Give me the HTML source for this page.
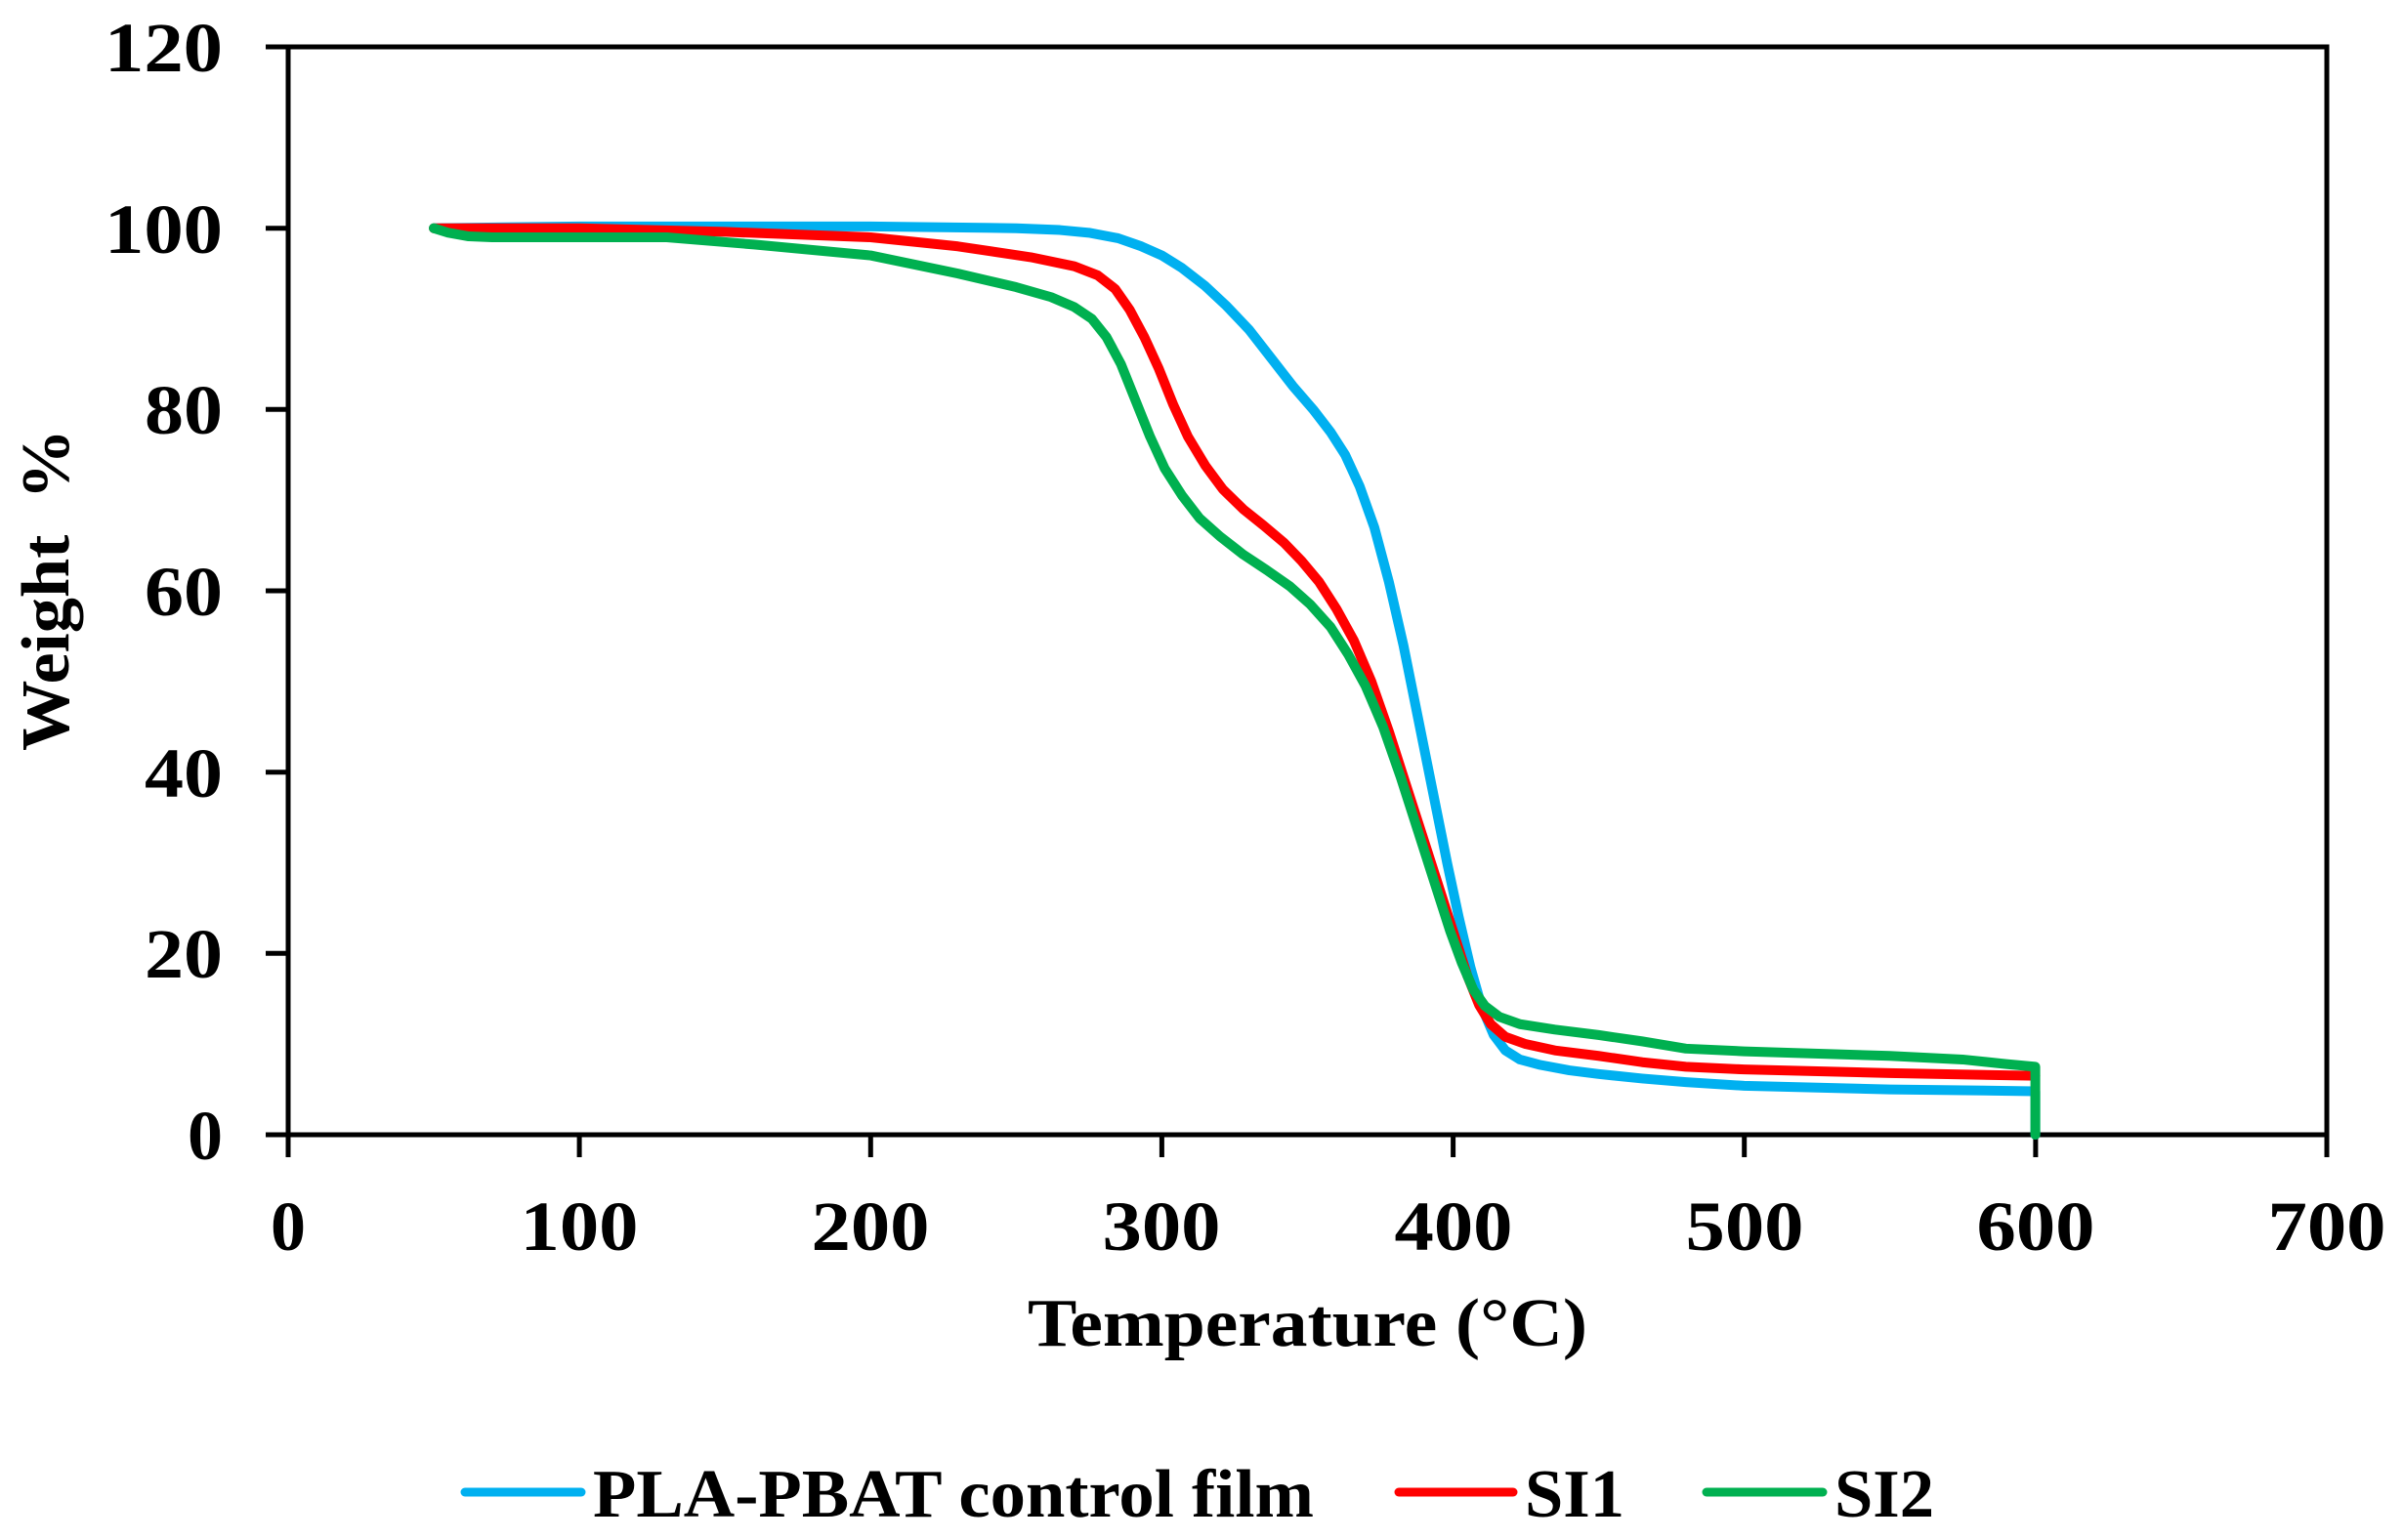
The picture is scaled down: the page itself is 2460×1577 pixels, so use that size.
<!DOCTYPE html>
<html><head><meta charset="utf-8"><style>
html,body{margin:0;padding:0;background:#fff;}
svg{display:block;}
text{font-family:"Liberation Serif",serif;font-weight:bold;fill:#000;}
</style></head><body>
<svg width="2460" height="1577" viewBox="0 0 2460 1577" xmlns="http://www.w3.org/2000/svg">
<rect width="2460" height="1577" fill="#fff"/>
<rect x="295" y="48" width="2087" height="1114" fill="none" stroke="#000" stroke-width="5"/>
<g stroke="#000" stroke-width="5">
<line x1="272" y1="48" x2="295" y2="48"/>
<line x1="272" y1="233.7" x2="295" y2="233.7"/>
<line x1="272" y1="419.3" x2="295" y2="419.3"/>
<line x1="272" y1="605" x2="295" y2="605"/>
<line x1="272" y1="790.7" x2="295" y2="790.7"/>
<line x1="272" y1="976.3" x2="295" y2="976.3"/>
<line x1="272" y1="1162" x2="295" y2="1162"/>
<line x1="295" y1="1162" x2="295" y2="1185"/>
<line x1="593.1" y1="1162" x2="593.1" y2="1185"/>
<line x1="891.3" y1="1162" x2="891.3" y2="1185"/>
<line x1="1189.4" y1="1162" x2="1189.4" y2="1185"/>
<line x1="1487.6" y1="1162" x2="1487.6" y2="1185"/>
<line x1="1785.7" y1="1162" x2="1785.7" y2="1185"/>
<line x1="2083.9" y1="1162" x2="2083.9" y2="1185"/>
<line x1="2382" y1="1162" x2="2382" y2="1185"/>
</g>
<g font-size="72" text-anchor="end">
<text x="228" y="73" textLength="121" lengthAdjust="spacingAndGlyphs">120</text>
<text x="228" y="259" textLength="121" lengthAdjust="spacingAndGlyphs">100</text>
<text x="228" y="444" textLength="80" lengthAdjust="spacingAndGlyphs">80</text>
<text x="228" y="630" textLength="80" lengthAdjust="spacingAndGlyphs">60</text>
<text x="228" y="816" textLength="80" lengthAdjust="spacingAndGlyphs">40</text>
<text x="228" y="1001" textLength="80" lengthAdjust="spacingAndGlyphs">20</text>
<text x="228" y="1187">0</text>
</g>
<g font-size="72" text-anchor="middle">
<text x="295" y="1280">0</text>
<text x="593" y="1280" textLength="121" lengthAdjust="spacingAndGlyphs">100</text>
<text x="891" y="1280" textLength="121" lengthAdjust="spacingAndGlyphs">200</text>
<text x="1189" y="1280" textLength="121" lengthAdjust="spacingAndGlyphs">300</text>
<text x="1488" y="1280" textLength="121" lengthAdjust="spacingAndGlyphs">400</text>
<text x="1786" y="1280" textLength="121" lengthAdjust="spacingAndGlyphs">500</text>
<text x="2084" y="1280" textLength="121" lengthAdjust="spacingAndGlyphs">600</text>
<text x="2382" y="1280" textLength="121" lengthAdjust="spacingAndGlyphs">700</text>
</g>
<text x="1052" y="1378" font-size="70" textLength="573" lengthAdjust="spacingAndGlyphs">Temperature (°C)</text>
<text transform="translate(70,769) rotate(-90)" font-size="70" textLength="330" lengthAdjust="spacingAndGlyphs" xml:space="preserve">Weight  %</text>
<g fill="none" stroke-width="10" stroke-linejoin="round" stroke-linecap="round">
<g transform="matrix(2.981,0,0,-9.283,295,1162)">
<polyline vector-effect="non-scaling-stroke" stroke="#00B0F0" points="50,100 100,100.2 200,100.2 250,100 265,99.8 275,99.5 285,98.9 293,98 300,97 307,95.6 315,93.6 322,91.5 330,88.8 338,85.5 345,82.6 352,80 358,77.5 363,75 368,71.5 373,67 378,61 383,54 388,46 393,38 398,30 402,24 406,18.5 410,14 414,11 418,9.3 423,8.3 430,7.7 440,7.1 450,6.7 465,6.2 480,5.8 500,5.4 550,5 600,4.8 600,0"/>
<polyline vector-effect="non-scaling-stroke" stroke="#FF0000" points="50,100 100,100 150,99.6 200,99 230,98 255,96.8 270,95.8 278,94.8 284,93.3 289,91 294,88 299,84.5 304,80.5 309,77 315,73.8 321,71.2 328,69 335,67.2 342,65.3 348,63.3 354,61 360,58 366,54.5 372,50 378,44.5 384,38.5 390,32.5 396,26.5 401,21.5 405,17.5 409,14.3 413,12.2 418,10.8 425,10 435,9.3 450,8.7 465,8 480,7.5 500,7.2 550,6.8 600,6.5"/>
<polyline vector-effect="non-scaling-stroke" stroke="#00B050" points="50,100 55,99.5 62,99.1 70,99 130,99 160,98.2 200,97 230,95 250,93.5 262,92.4 270,91.3 276,90 281,88 286,85 291,81 296,77 301,73.5 307,70.5 313,68 320,66 328,64 336,62.3 344,60.5 351,58.5 358,56 364,53 370,49.5 376,45 382,39.5 388,33.5 394,27.5 399,22.5 403,19 407,16 411,14.2 416,13 423,12.2 435,11.6 450,11 465,10.3 480,9.5 500,9.2 550,8.7 575,8.3 590,7.8 600,7.5 600,0"/>
</g>
</g>
<g stroke-width="9" stroke-linecap="round">
<line x1="476" y1="1528" x2="595" y2="1528" stroke="#00B0F0"/>
<line x1="1432" y1="1528" x2="1549" y2="1528" stroke="#FF0000"/>
<line x1="1747" y1="1528" x2="1866" y2="1528" stroke="#00B050"/>
</g>
<g font-size="70">
<text x="607" y="1553" textLength="738" lengthAdjust="spacingAndGlyphs">PLA-PBAT control film</text>
<text x="1561" y="1553" textLength="102" lengthAdjust="spacingAndGlyphs">SI1</text>
<text x="1878" y="1553" textLength="102" lengthAdjust="spacingAndGlyphs">SI2</text>
</g>
</svg>
</body></html>
